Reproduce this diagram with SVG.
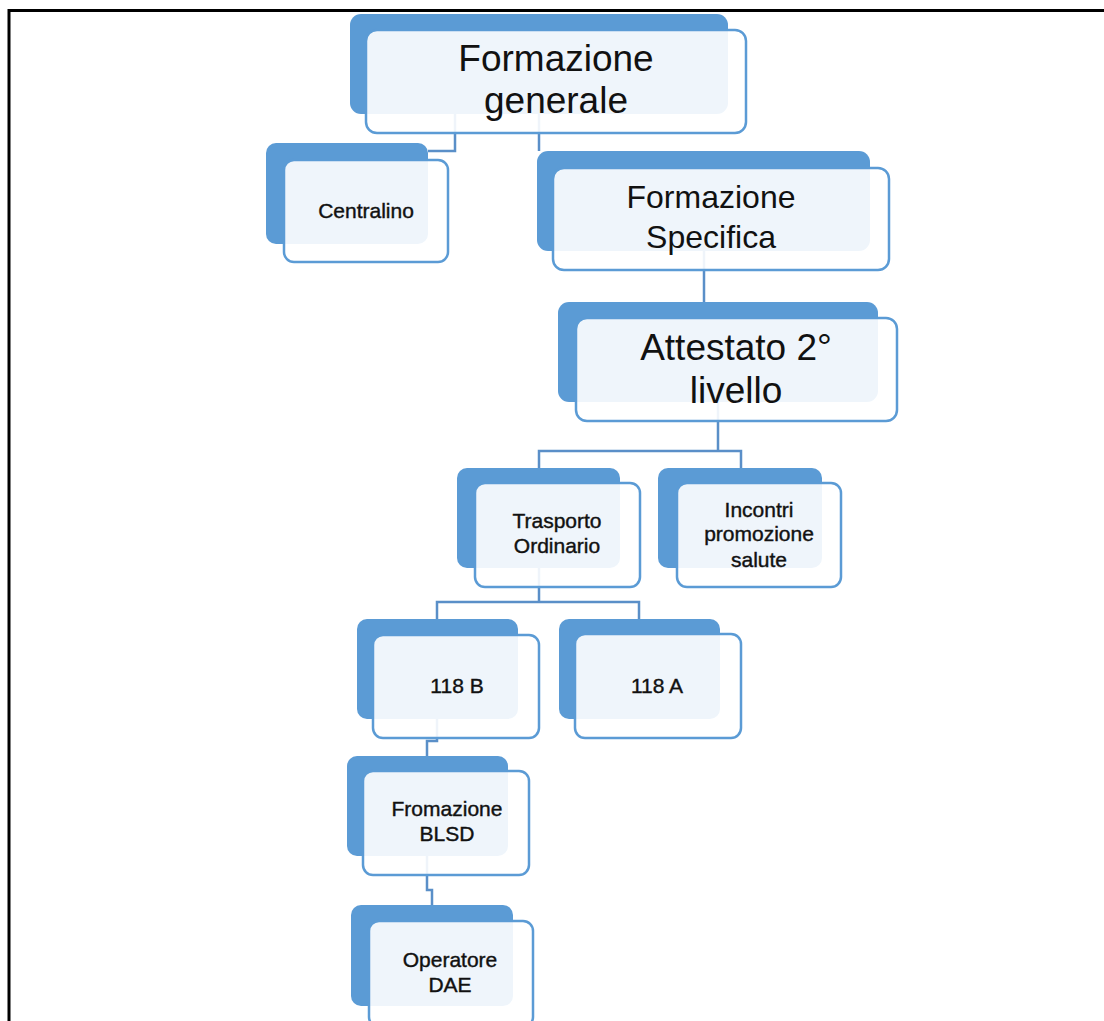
<svg xmlns="http://www.w3.org/2000/svg" width="1104" height="1021" viewBox="0 0 1104 1021">
<style>
.back{fill:#5B9BD5}
.front{fill:#FFFFFF;fill-opacity:0.9;stroke:#5B9BD5;stroke-width:2.5}
.conn{fill:none;stroke:#5A8FC8;stroke-width:2.5}
text{font-family:"Liberation Sans",Arial,sans-serif;fill:#111;text-anchor:middle}
.big{font-size:37px}
.mid{font-size:32px}
.sm{font-size:21px;stroke:#111;stroke-width:0.4}
</style>
<rect x="0" y="0" width="1104" height="1021" fill="#FFFFFF"/>
<path d="M9,1021 V10.5 H1104" fill="none" stroke="#000" stroke-width="3"/>
<g id="connectors">
<path class="conn" d="M455,114 V151 H428"/>
<path class="conn" d="M539,114 V151"/>
<path class="conn" d="M704,251 V302"/>
<path class="conn" d="M718,402 V451 M539,468 V451 H741 V468"/>
<path class="conn" d="M539,568 V602 M437,619 V602 H639 V619"/>
<path class="conn" d="M437,719 V741 H427 V756"/>
<path class="conn" d="M427,856 V890 H432 V905"/>
</g>
<g id="n-formazione-generale">
<rect class="back" x="350" y="14" width="378" height="100" rx="11"/>
<rect class="front" x="366" y="30" width="380" height="103" rx="11"/>
<text class="big" x="556" y="71">Formazione</text>
<text class="big" x="556" y="113">generale</text>
</g>
<g id="n-centralino">
<rect class="back" x="266" y="143" width="162" height="101" rx="10"/>
<rect class="front" x="284" y="160" width="164" height="102" rx="10"/>
<text class="sm" x="366" y="218">Centralino</text>
</g>
<g id="n-formazione-specifica">
<rect class="back" x="537" y="151" width="333" height="100" rx="11"/>
<rect class="front" x="553" y="168" width="336" height="102" rx="11"/>
<text class="mid" x="711" y="208">Formazione</text>
<text class="mid" x="711" y="248">Specifica</text>
</g>
<g id="n-attestato">
<rect class="back" x="558" y="302" width="320" height="100" rx="11"/>
<rect class="front" x="576" y="318" width="321" height="103" rx="11"/>
<text class="big" x="736" y="360">Attestato 2°</text>
<text class="big" x="736" y="403">livello</text>
</g>
<g id="n-trasporto">
<rect class="back" x="457" y="468" width="163" height="100" rx="10"/>
<rect class="front" x="475" y="483" width="165" height="104" rx="10"/>
<text class="sm" x="557" y="528">Trasporto</text>
<text class="sm" x="557" y="553">Ordinario</text>
</g>
<g id="n-incontri">
<rect class="back" x="658" y="468" width="164" height="100" rx="10"/>
<rect class="front" x="677" y="483" width="164" height="104" rx="10"/>
<text class="sm" x="759" y="517">Incontri</text>
<text class="sm" x="759" y="541">promozione</text>
<text class="sm" x="759" y="567">salute</text>
</g>
<g id="n-118b">
<rect class="back" x="357" y="619" width="161" height="100" rx="10"/>
<rect class="front" x="373" y="635" width="166" height="103" rx="10"/>
<text class="sm" x="457" y="693">118 B</text>
</g>
<g id="n-118a">
<rect class="back" x="559" y="619" width="161" height="100" rx="10"/>
<rect class="front" x="575" y="634" width="166" height="104" rx="10"/>
<text class="sm" x="657" y="693">118 A</text>
</g>
<g id="n-blsd">
<rect class="back" x="347" y="756" width="161" height="100" rx="10"/>
<rect class="front" x="363" y="771" width="166" height="104" rx="10"/>
<text class="sm" x="447" y="816">Fromazione</text>
<text class="sm" x="447" y="841">BLSD</text>
</g>
<g id="n-operatore">
<rect class="back" x="351" y="905" width="162" height="101" rx="10"/>
<rect class="front" x="369" y="921" width="164" height="106" rx="10"/>
<text class="sm" x="450" y="967">Operatore</text>
<text class="sm" x="450" y="992">DAE</text>
</g>
</svg>
